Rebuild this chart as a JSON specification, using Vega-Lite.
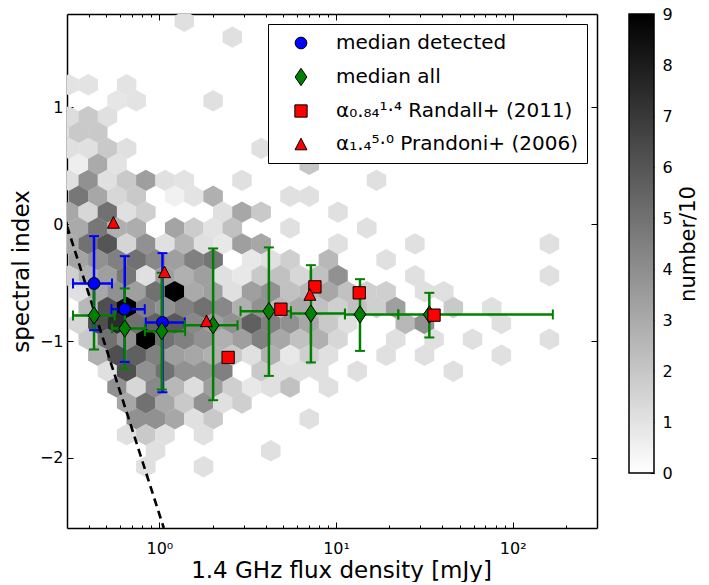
{
  "$schema": "https://vega.github.io/schema/vega-lite/v6.json",
  "padding": {"left": 10, "top": 6, "right": 2, "bottom": 0},
  "config": {
    "font": "DejaVu Sans",
    "view": {"stroke": null},
    "axis": {"grid": false, "zindex": 1, "tickColor": "black", "domainColor": "black", "labelColor": "black", "titleColor": "black", "titleFontWeight": "normal"}
  },
  "resolve": {"legend": {"color": "independent", "shape": "independent", "fill": "independent", "stroke": "independent"}},
  "datasets": {
    "hex": [
      {"flux":1.384,"alpha":1.738,"n":1.1},
      {"flux":2.588,"alpha":1.602,"n":1.1},
      {"flux":0.3079,"alpha":1.194,"n":1.0},{"flux":0.3956,"alpha":1.194,"n":1.0},{"flux":0.6526,"alpha":1.194,"n":1.0},
      {"flux":0.5758,"alpha":1.057,"n":0.9},{"flux":0.7397,"alpha":1.057,"n":1.0},{"flux":2.015,"alpha":1.057,"n":1.1},
      {"flux":0.3079,"alpha":0.921,"n":1.2},{"flux":0.3956,"alpha":0.921,"n":1.9},{"flux":0.508,"alpha":0.921,"n":1.1},
      {"flux":0.2716,"alpha":0.785,"n":1.1},{"flux":0.349,"alpha":0.785,"n":1.9},{"flux":0.4482,"alpha":0.785,"n":1.9},
      {"flux":0.3079,"alpha":0.649,"n":1.1},{"flux":0.3956,"alpha":0.649,"n":1.1},{"flux":0.508,"alpha":0.649,"n":1.9},{"flux":0.6526,"alpha":0.649,"n":1.1},{"flux":3.769,"alpha":0.649,"n":1.1},
      {"flux":0.349,"alpha":0.513,"n":0.6},{"flux":0.4482,"alpha":0.513,"n":3.0},{"flux":0.5758,"alpha":0.513,"n":1.0},{"flux":7.05,"alpha":0.513,"n":2.0},
      {"flux":0.3079,"alpha":0.376,"n":1.1},{"flux":0.3956,"alpha":0.376,"n":3.9},{"flux":0.508,"alpha":0.376,"n":1.1},{"flux":0.6526,"alpha":0.376,"n":1.9},{"flux":0.8384,"alpha":0.376,"n":3.4},{"flux":1.077,"alpha":0.376,"n":1.1},{"flux":1.384,"alpha":0.376,"n":1.0},{"flux":2.934,"alpha":0.376,"n":1.1},{"flux":16.94,"alpha":0.376,"n":1.1},
      {"flux":0.349,"alpha":0.24,"n":4.8},{"flux":0.4482,"alpha":0.24,"n":3.1},{"flux":0.5758,"alpha":0.24,"n":1.4},{"flux":0.7397,"alpha":0.24,"n":1.9},{"flux":1.221,"alpha":0.24,"n":0.5},{"flux":1.568,"alpha":0.24,"n":1.0},{"flux":2.015,"alpha":0.24,"n":2.8},{"flux":5.488,"alpha":0.24,"n":1.1},{"flux":7.05,"alpha":0.24,"n":1.1},
      {"flux":0.3079,"alpha":0.104,"n":3.1},{"flux":0.3956,"alpha":0.104,"n":1.4},{"flux":0.508,"alpha":0.104,"n":5.0},{"flux":0.6526,"alpha":0.104,"n":1.1},{"flux":0.8384,"alpha":0.104,"n":1.7},{"flux":2.284,"alpha":0.104,"n":1.1},{"flux":2.934,"alpha":0.104,"n":3.1},{"flux":3.769,"alpha":0.104,"n":1.9},{"flux":10.26,"alpha":0.104,"n":1.1},
      {"flux":0.349,"alpha":-0.032,"n":3.0},{"flux":0.4482,"alpha":-0.032,"n":4.8},{"flux":0.5758,"alpha":-0.032,"n":2.8},{"flux":0.7397,"alpha":-0.032,"n":2.9},{"flux":1.221,"alpha":-0.032,"n":3.2},{"flux":1.568,"alpha":-0.032,"n":1.8},{"flux":2.015,"alpha":-0.032,"n":1.0},{"flux":2.588,"alpha":-0.032,"n":2.2},{"flux":5.488,"alpha":-0.032,"n":1.1},{"flux":14.94,"alpha":-0.032,"n":1.1},
      {"flux":0.3079,"alpha":-0.168,"n":3.0},{"flux":0.3956,"alpha":-0.168,"n":5.0},{"flux":0.508,"alpha":-0.168,"n":6.0},{"flux":0.6526,"alpha":-0.168,"n":1.5},{"flux":0.8384,"alpha":-0.168,"n":3.9},{"flux":1.077,"alpha":-0.168,"n":1.1},{"flux":1.384,"alpha":-0.168,"n":2.6},{"flux":1.778,"alpha":-0.168,"n":1.1},{"flux":2.284,"alpha":-0.168,"n":0.8},{"flux":2.934,"alpha":-0.168,"n":3.4},{"flux":3.769,"alpha":-0.168,"n":3.1},{"flux":10.26,"alpha":-0.168,"n":1.1},{"flux":27.95,"alpha":-0.168,"n":1.1},{"flux":161.4,"alpha":-0.168,"n":1.1},
      {"flux":0.349,"alpha":-0.304,"n":3.2},{"flux":0.4482,"alpha":-0.304,"n":3.9},{"flux":0.5758,"alpha":-0.304,"n":4.5},{"flux":0.7397,"alpha":-0.304,"n":5.0},{"flux":0.9504,"alpha":-0.304,"n":4.2},{"flux":1.221,"alpha":-0.304,"n":3.4},{"flux":1.568,"alpha":-0.304,"n":4.5},{"flux":2.015,"alpha":-0.304,"n":4.9},{"flux":3.325,"alpha":-0.304,"n":0.8},{"flux":4.272,"alpha":-0.304,"n":1.1},{"flux":5.488,"alpha":-0.304,"n":1.7},{"flux":9.057,"alpha":-0.304,"n":2.5},{"flux":19.2,"alpha":-0.304,"n":1.1},
      {"flux":0.3079,"alpha":-0.441,"n":1.7},{"flux":0.3956,"alpha":-0.441,"n":2.8},{"flux":0.508,"alpha":-0.441,"n":3.4},{"flux":0.6526,"alpha":-0.441,"n":4.8},{"flux":0.8384,"alpha":-0.441,"n":1.1},{"flux":1.077,"alpha":-0.441,"n":3.4},{"flux":1.384,"alpha":-0.441,"n":2.8},{"flux":1.778,"alpha":-0.441,"n":3.4},{"flux":2.284,"alpha":-0.441,"n":1.1},{"flux":2.934,"alpha":-0.441,"n":0.8},{"flux":3.769,"alpha":-0.441,"n":1.9},{"flux":4.842,"alpha":-0.441,"n":2.2},{"flux":6.22,"alpha":-0.441,"n":1.4},{"flux":7.991,"alpha":-0.441,"n":2.2},{"flux":10.26,"alpha":-0.441,"n":3.9},{"flux":27.95,"alpha":-0.441,"n":1.1},{"flux":161.4,"alpha":-0.441,"n":1.1},
      {"flux":0.349,"alpha":-0.577,"n":1.1},{"flux":0.4482,"alpha":-0.577,"n":3.1},{"flux":0.5758,"alpha":-0.577,"n":3.9},{"flux":0.7397,"alpha":-0.577,"n":3.4},{"flux":0.9504,"alpha":-0.577,"n":5.0},{"flux":1.221,"alpha":-0.577,"n":9.0},{"flux":1.568,"alpha":-0.577,"n":3.0},{"flux":2.015,"alpha":-0.577,"n":3.4},{"flux":2.588,"alpha":-0.577,"n":1.1},{"flux":3.325,"alpha":-0.577,"n":3.4},{"flux":4.272,"alpha":-0.577,"n":3.9},{"flux":5.488,"alpha":-0.577,"n":2.2},{"flux":7.05,"alpha":-0.577,"n":2.5},{"flux":9.057,"alpha":-0.577,"n":3.1},{"flux":11.63,"alpha":-0.577,"n":2.2},{"flux":14.94,"alpha":-0.577,"n":1.7},{"flux":19.2,"alpha":-0.577,"n":1.7},{"flux":31.68,"alpha":-0.577,"n":1.1},{"flux":40.7,"alpha":-0.577,"n":1.1},
      {"flux":0.3956,"alpha":-0.713,"n":2.5},{"flux":0.508,"alpha":-0.713,"n":6.2},{"flux":0.6526,"alpha":-0.713,"n":9.0},{"flux":0.8384,"alpha":-0.713,"n":4.5},{"flux":1.077,"alpha":-0.713,"n":3.9},{"flux":1.384,"alpha":-0.713,"n":4.5},{"flux":1.778,"alpha":-0.713,"n":5.0},{"flux":2.284,"alpha":-0.713,"n":4.2},{"flux":2.934,"alpha":-0.713,"n":2.8},{"flux":3.769,"alpha":-0.713,"n":3.9},{"flux":4.842,"alpha":-0.713,"n":2.5},{"flux":6.22,"alpha":-0.713,"n":3.0},{"flux":7.991,"alpha":-0.713,"n":2.2},{"flux":10.26,"alpha":-0.713,"n":1.7},{"flux":13.18,"alpha":-0.713,"n":2.2},{"flux":16.94,"alpha":-0.713,"n":1.7},{"flux":21.76,"alpha":-0.713,"n":3.4},{"flux":46.12,"alpha":-0.713,"n":1.9},{"flux":76.12,"alpha":-0.713,"n":1.1},
      {"flux":0.349,"alpha":-0.849,"n":1.4},{"flux":0.4482,"alpha":-0.849,"n":6.2},{"flux":0.5758,"alpha":-0.849,"n":7.5},{"flux":0.7397,"alpha":-0.849,"n":5.0},{"flux":0.9504,"alpha":-0.849,"n":5.6},{"flux":1.221,"alpha":-0.849,"n":5.9},{"flux":1.568,"alpha":-0.849,"n":4.2},{"flux":2.015,"alpha":-0.849,"n":3.4},{"flux":2.588,"alpha":-0.849,"n":3.9},{"flux":3.325,"alpha":-0.849,"n":5.6},{"flux":4.272,"alpha":-0.849,"n":4.5},{"flux":5.488,"alpha":-0.849,"n":3.9},{"flux":7.05,"alpha":-0.849,"n":3.1},{"flux":9.057,"alpha":-0.849,"n":1.9},{"flux":11.63,"alpha":-0.849,"n":1.1},{"flux":24.66,"alpha":-0.849,"n":2.5},{"flux":31.68,"alpha":-0.849,"n":3.9},{"flux":86.28,"alpha":-0.849,"n":1.1},
      {"flux":0.3956,"alpha":-0.985,"n":1.9},{"flux":0.508,"alpha":-0.985,"n":5.0},{"flux":0.6526,"alpha":-0.985,"n":3.9},{"flux":0.8384,"alpha":-0.985,"n":9.0},{"flux":1.077,"alpha":-0.985,"n":5.0},{"flux":1.384,"alpha":-0.985,"n":4.5},{"flux":1.778,"alpha":-0.985,"n":3.9},{"flux":2.284,"alpha":-0.985,"n":2.8},{"flux":2.934,"alpha":-0.985,"n":3.4},{"flux":3.769,"alpha":-0.985,"n":4.5},{"flux":4.842,"alpha":-0.985,"n":3.1},{"flux":6.22,"alpha":-0.985,"n":2.2},{"flux":7.991,"alpha":-0.985,"n":2.8},{"flux":10.26,"alpha":-0.985,"n":1.4},{"flux":21.76,"alpha":-0.985,"n":1.1},{"flux":35.91,"alpha":-0.985,"n":1.1},{"flux":59.25,"alpha":-0.985,"n":1.1},{"flux":161.4,"alpha":-0.985,"n":1.1},
      {"flux":0.4482,"alpha":-1.122,"n":2.8},{"flux":0.5758,"alpha":-1.122,"n":6.2},{"flux":0.7397,"alpha":-1.122,"n":5.6},{"flux":0.9504,"alpha":-1.122,"n":4.5},{"flux":1.221,"alpha":-1.122,"n":3.4},{"flux":1.568,"alpha":-1.122,"n":3.1},{"flux":2.015,"alpha":-1.122,"n":2.8},{"flux":2.588,"alpha":-1.122,"n":1.9},{"flux":3.325,"alpha":-1.122,"n":1.1},{"flux":4.272,"alpha":-1.122,"n":2.8},{"flux":5.488,"alpha":-1.122,"n":0.8},{"flux":7.05,"alpha":-1.122,"n":1.7},{"flux":9.057,"alpha":-1.122,"n":1.1},{"flux":19.2,"alpha":-1.122,"n":1.1},{"flux":31.68,"alpha":-1.122,"n":1.1},{"flux":86.28,"alpha":-1.122,"n":1.1},
      {"flux":0.508,"alpha":-1.258,"n":1.1},{"flux":0.6526,"alpha":-1.258,"n":6.2},{"flux":0.8384,"alpha":-1.258,"n":3.9},{"flux":1.077,"alpha":-1.258,"n":5.0},{"flux":1.384,"alpha":-1.258,"n":3.9},{"flux":1.778,"alpha":-1.258,"n":3.9},{"flux":2.284,"alpha":-1.258,"n":4.5},{"flux":3.769,"alpha":-1.258,"n":1.9},{"flux":4.842,"alpha":-1.258,"n":1.1},{"flux":6.22,"alpha":-1.258,"n":1.1},{"flux":7.991,"alpha":-1.258,"n":1.1},{"flux":13.18,"alpha":-1.258,"n":1.1},{"flux":46.12,"alpha":-1.258,"n":1.1},
      {"flux":0.5758,"alpha":-1.394,"n":3.9},{"flux":0.7397,"alpha":-1.394,"n":1.4},{"flux":0.9504,"alpha":-1.394,"n":4.2},{"flux":1.221,"alpha":-1.394,"n":2.5},{"flux":1.568,"alpha":-1.394,"n":1.2},{"flux":2.015,"alpha":-1.394,"n":3.4},{"flux":2.588,"alpha":-1.394,"n":1.7},{"flux":3.325,"alpha":-1.394,"n":0.8},{"flux":4.272,"alpha":-1.394,"n":1.1},{"flux":5.488,"alpha":-1.394,"n":2.2},{"flux":9.057,"alpha":-1.394,"n":1.1},
      {"flux":0.6526,"alpha":-1.53,"n":3.1},{"flux":0.8384,"alpha":-1.53,"n":5.0},{"flux":1.077,"alpha":-1.53,"n":3.1},{"flux":1.384,"alpha":-1.53,"n":1.9},{"flux":1.778,"alpha":-1.53,"n":3.9},{"flux":2.284,"alpha":-1.53,"n":1.1},{"flux":2.934,"alpha":-1.53,"n":1.7},
      {"flux":0.7397,"alpha":-1.666,"n":3.9},{"flux":0.9504,"alpha":-1.666,"n":3.9},{"flux":1.221,"alpha":-1.666,"n":3.1},{"flux":1.568,"alpha":-1.666,"n":1.1},{"flux":2.015,"alpha":-1.666,"n":1.9},{"flux":7.05,"alpha":-1.666,"n":1.1},
      {"flux":0.6526,"alpha":-1.802,"n":1.1},{"flux":0.8384,"alpha":-1.802,"n":1.9},{"flux":1.077,"alpha":-1.802,"n":1.1},{"flux":1.778,"alpha":-1.802,"n":1.1},
      {"flux":0.9504,"alpha":-1.939,"n":1.1},{"flux":4.272,"alpha":-1.939,"n":1.1},
      {"flux":0.8384,"alpha":-2.075,"n":1.1},{"flux":1.778,"alpha":-2.075,"n":1.1}
    ],
    "limit": [
      {"flux": 0.3, "alpha": -0.016},
      {"flux": 1.059, "alpha": -2.6}
    ],
    "pts": [
      {"series":"median detected","flux":0.4266,"alpha":-0.507,"xlo":0.3243,"xhi":0.5395,"ylo":-0.907,"yhi":-0.1015},
      {"series":"median detected","flux":0.637,"alpha":-0.727,"xlo":0.5353,"xhi":0.8263,"ylo":-1.178,"yhi":-0.273},
      {"series":"median detected","flux":1.041,"alpha":-0.84,"xlo":0.8374,"xhi":1.393,"ylo":-1.438,"yhi":-0.247},
      {"series":"median all","flux":0.4266,"alpha":-0.781,"xlo":0.3243,"xhi":0.5588,"ylo":-1.072,"yhi":-0.49},
      {"series":"median all","flux":0.637,"alpha":-0.892,"xlo":0.5395,"xhi":0.828,"ylo":-1.235,"yhi":-0.549},
      {"series":"median all","flux":1.032,"alpha":-0.915,"xlo":0.8286,"xhi":1.399,"ylo":-1.415,"yhi":-0.415},
      {"series":"median all","flux":2.015,"alpha":-0.864,"xlo":1.393,"xhi":2.77,"ylo":-1.506,"yhi":-0.207},
      {"series":"median all","flux":4.167,"alpha":-0.744,"xlo":2.88,"xhi":5.553,"ylo":-1.298,"yhi":-0.198},
      {"series":"median all","flux":7.207,"alpha":-0.764,"xlo":5.553,"xhi":11.23,"ylo":-1.183,"yhi":-0.35},
      {"series":"median all","flux":13.66,"alpha":-0.772,"xlo":11.23,"xhi":22.51,"ylo":-1.084,"yhi":-0.47},
      {"series":"median all","flux":33.73,"alpha":-0.772,"xlo":22.51,"xhi":168.7,"ylo":-0.969,"yhi":-0.587},
      {"series":"α₀.₈₄¹·⁴ Randall+ (2011)","flux":2.45,"alpha":-1.14},
      {"series":"α₀.₈₄¹·⁴ Randall+ (2011)","flux":4.874,"alpha":-0.727},
      {"series":"α₀.₈₄¹·⁴ Randall+ (2011)","flux":7.594,"alpha":-0.536},
      {"series":"α₀.₈₄¹·⁴ Randall+ (2011)","flux":13.53,"alpha":-0.587},
      {"series":"α₀.₈₄¹·⁴ Randall+ (2011)","flux":35.86,"alpha":-0.778},
      {"series":"α₁.₄⁵·⁰ Prandoni+ (2006)","flux":0.5494,"alpha":0.016},
      {"series":"α₁.₄⁵·⁰ Prandoni+ (2006)","flux":1.069,"alpha":-0.407},
      {"series":"α₁.₄⁵·⁰ Prandoni+ (2006)","flux":1.848,"alpha":-0.827},
      {"series":"α₁.₄⁵·⁰ Prandoni+ (2006)","flux":7.114,"alpha":-0.601}
    ]
  },
  "spacing": 30,
  "hconcat": [
    {
      "width": 530,
      "height": 514,
      "resolve": {"axis": {"x": "independent", "y": "independent"}},
      "layer": [
        {
          "data": {"name": "hex"},
          "mark": {"type": "point", "shape": "M0,-1.1L1,-0.55L1,0.55L0,1.1L-1,0.55L-1,-0.55Z", "size": 380, "filled": true, "opacity": 1, "strokeWidth": 0, "clip": true},
          "encoding": {
            "x": {"field": "flux", "type": "quantitative", "scale": {"type": "log", "domain": [0.3, 300]},
                  "axis": {"orient": "bottom", "values": [1, 10, 100], "labelExpr": "datum.value == 1 ? '10⁰' : datum.value == 10 ? '10¹' : '10²'", "tickSize": -6, "tickWidth": 1, "labelPadding": 18, "labelFontSize": 16, "domain": true, "domainWidth": 1.5, "title": "1.4 GHz flux density [mJy]", "titleFontSize": 23, "titleY": 31, "titleX": 274, "titleBaseline": "top"}},
            "y": {"field": "alpha", "type": "quantitative", "scale": {"domain": [-2.6, 1.8]},
                  "axis": {"orient": "left", "values": [-2, -1, 0, 1], "format": "d", "tickSize": -6, "tickWidth": 1, "labelPadding": 10, "labelFontSize": 16, "domain": true, "domainWidth": 1.5, "title": "spectral index", "titleFontSize": 23, "titlePadding": 6}},
            "fill": {"field": "n", "type": "quantitative", "scale": {"domain": [0, 9], "range": ["#ffffff", "#000000"], "interpolate": "rgb"}, "legend": null}
          }
        },
        {
          "data": {"name": "limit"},
          "mark": {"type": "line", "color": "black", "strokeWidth": 2.6, "strokeDash": [8, 5], "clip": true},
          "encoding": {
            "x": {"field": "flux", "type": "quantitative", "scale": {"type": "log", "domain": [0.3, 300]},
                  "axis": {"orient": "top", "values": [1, 10, 100], "labels": false, "tickSize": -6, "tickWidth": 1, "domain": true, "domainWidth": 1.5, "title": null}},
            "y": {"field": "alpha", "type": "quantitative", "scale": {"domain": [-2.6, 1.8]},
                  "axis": {"orient": "right", "values": [-2, -1, 0, 1], "labels": false, "tickSize": -6, "tickWidth": 1, "domain": true, "domainWidth": 1.5, "title": null}}
          }
        },
        {
          "data": {"name": "pts"},
          "transform": [{"filter": {"field": "ylo", "valid": true}}],
          "mark": {"type": "rule", "strokeWidth": 2.5},
          "encoding": {
            "x": {"field": "flux", "type": "quantitative", "scale": {"type": "log", "domain": [0.3, 300]},
                  "axis": {"orient": "bottom", "values": [0.4, 0.5, 0.6, 0.7, 0.8, 0.9, 2, 3, 4, 5, 6, 7, 8, 9, 20, 30, 40, 50, 60, 70, 80, 90, 200], "labels": false, "tickSize": -3, "tickWidth": 1, "domain": false, "title": null}},
            "y": {"field": "ylo", "type": "quantitative", "scale": {"domain": [-2.6, 1.8]}, "axis": null},
            "y2": {"field": "yhi"},
            "stroke": {"field": "series", "type": "nominal", "scale": {"domain": ["median detected", "median all"], "range": ["#0000ff", "#008000"]}, "legend": null}
          }
        },
        {
          "data": {"name": "pts"},
          "transform": [{"filter": {"field": "ylo", "valid": true}}],
          "mark": {"type": "rule", "strokeWidth": 2.5},
          "encoding": {
            "x": {"field": "xlo", "type": "quantitative", "scale": {"type": "log", "domain": [0.3, 300]},
                  "axis": {"orient": "top", "values": [0.4, 0.5, 0.6, 0.7, 0.8, 0.9, 2, 3, 4, 5, 6, 7, 8, 9, 20, 30, 40, 50, 60, 70, 80, 90, 200], "labels": false, "tickSize": -3, "tickWidth": 1, "domain": false, "title": null}},
            "x2": {"field": "xhi"},
            "y": {"field": "alpha", "type": "quantitative", "scale": {"domain": [-2.6, 1.8]}, "axis": null},
            "stroke": {"field": "series", "type": "nominal", "scale": {"domain": ["median detected", "median all"], "range": ["#0000ff", "#008000"]}, "legend": null}
          }
        },
        {
          "data": {"name": "pts"},
          "transform": [{"filter": {"field": "ylo", "valid": true}}, {"fold": ["ylo", "yhi"], "as": ["end", "v"]}],
          "mark": {"type": "point", "shape": "M-1,0L1,0", "size": 100, "filled": false, "strokeWidth": 2, "opacity": 1},
          "encoding": {
            "x": {"field": "flux", "type": "quantitative", "scale": {"type": "log", "domain": [0.3, 300]}, "axis": null},
            "y": {"field": "v", "type": "quantitative", "scale": {"domain": [-2.6, 1.8]}, "axis": null},
            "stroke": {"field": "series", "type": "nominal", "scale": {"domain": ["median detected", "median all"], "range": ["#0000ff", "#008000"]}, "legend": null}
          }
        },
        {
          "data": {"name": "pts"},
          "transform": [{"filter": {"field": "ylo", "valid": true}}, {"fold": ["xlo", "xhi"], "as": ["end", "v"]}],
          "mark": {"type": "point", "shape": "M0,-1L0,1", "size": 100, "filled": false, "strokeWidth": 2, "opacity": 1},
          "encoding": {
            "x": {"field": "v", "type": "quantitative", "scale": {"type": "log", "domain": [0.3, 300]}, "axis": null},
            "y": {"field": "alpha", "type": "quantitative", "scale": {"domain": [-2.6, 1.8]}, "axis": null},
            "stroke": {"field": "series", "type": "nominal", "scale": {"domain": ["median detected", "median all"], "range": ["#0000ff", "#008000"]}, "legend": null}
          }
        },
        {
          "data": {"name": "pts"},
          "mark": {"type": "point", "filled": true, "opacity": 1, "size": 300, "stroke": "black", "strokeWidth": 1},
          "encoding": {
            "x": {"field": "flux", "type": "quantitative", "scale": {"type": "log", "domain": [0.3, 300]}, "axis": null},
            "y": {"field": "alpha", "type": "quantitative", "scale": {"domain": [-2.6, 1.8]}, "axis": null},
            "color": {"field": "series", "type": "nominal",
                      "scale": {"domain": ["median detected", "median all", "α₀.₈₄¹·⁴ Randall+ (2011)", "α₁.₄⁵·⁰ Prandoni+ (2006)"], "range": ["#0000ff", "#008000", "#ff0000", "#ff0000"]},
                      "legend": {"title": null, "orient": "top-right", "offset": 10, "fillColor": "white", "strokeColor": "black", "padding": 9, "labelFontSize": 20, "labelColor": "black", "rowPadding": 13, "symbolSize": 300, "symbolOffset": 14, "labelOffset": 25, "symbolStrokeColor": "black", "symbolStrokeWidth": 1, "labelLimit": 400, "cornerRadius": 0}},
            "shape": {"field": "series", "type": "nominal",
                      "scale": {"domain": ["median detected", "median all", "α₀.₈₄¹·⁴ Randall+ (2011)", "α₁.₄⁵·⁰ Prandoni+ (2006)"],
                                "range": ["M-0.68,0A0.68,0.68,0,1,0,0.68,0A0.68,0.68,0,1,0,-0.68,0Z", "M0,-1L0.68,0L0,1L-0.68,0Z", "M-0.71,-0.71L0.71,-0.71L0.71,0.71L-0.71,0.71Z", "M0,-0.67L0.69,0.67L-0.69,0.67Z"]}}
          }
        }
      ]
    },
    {
      "width": 25,
      "height": 459,
      "data": {"values": [{"lo": 0, "hi": 9}]},
      "mark": {"type": "rect", "stroke": "black", "strokeWidth": 1.5,
               "fill": {"x1": 0, "y1": 1, "x2": 0, "y2": 0, "gradient": "linear", "stops": [{"offset": 0, "color": "#ffffff"}, {"offset": 1, "color": "#000000"}]}},
      "encoding": {
        "x": {"value": 0},
        "x2": {"value": "width"},
        "y": {"field": "lo", "type": "quantitative", "scale": {"domain": [0, 9], "nice": false},
              "axis": {"orient": "right", "values": [0, 1, 2, 3, 4, 5, 6, 7, 8, 9], "format": "d", "tickSize": -4, "tickWidth": 1, "labelPadding": 12, "labelFontSize": 16, "domain": false, "title": "number/10", "titleFontSize": 21, "titleAngle": -90, "titleBaseline": "top", "titlePadding": 5}},
        "y2": {"field": "hi"}
      }
    }
  ]
}
